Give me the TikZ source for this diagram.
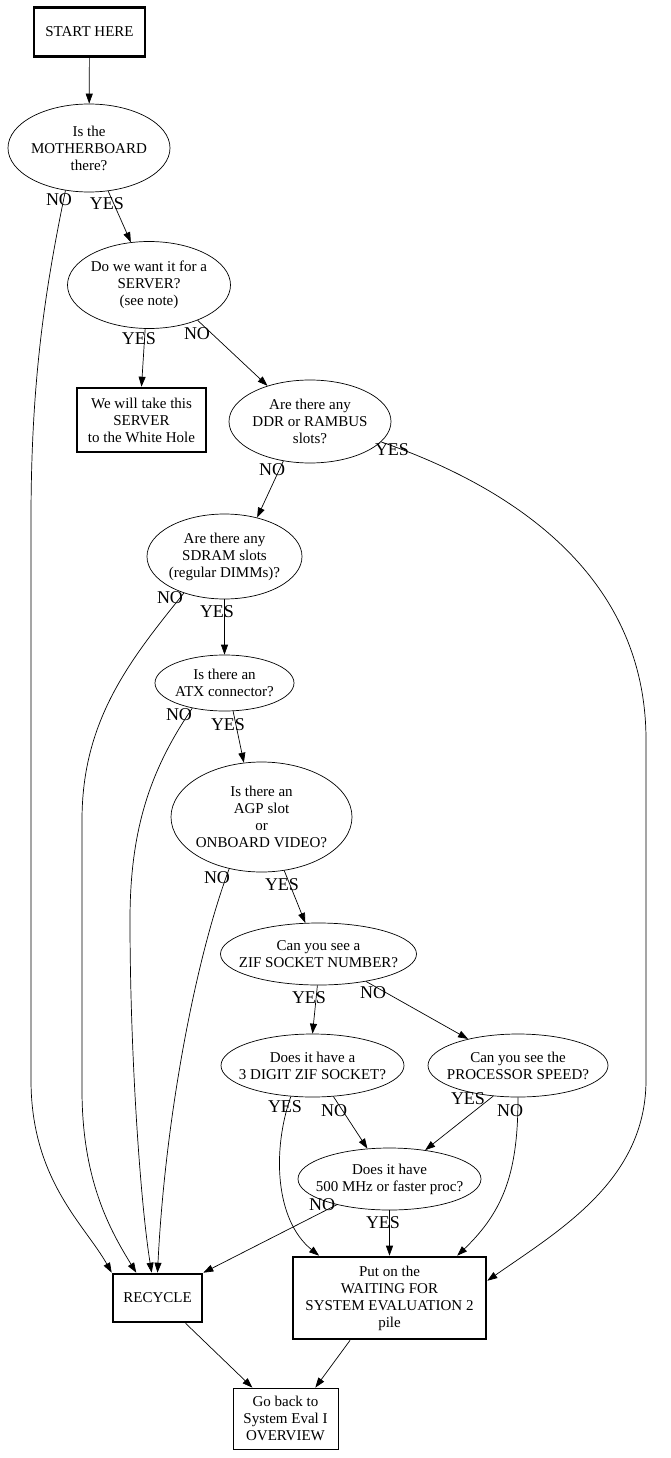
\documentclass[tikz,border=0pt]{standalone}
\usepackage{fontspec}
\setmainfont{Liberation Serif}
\usetikzlibrary{shapes.geometric,arrows.meta}
\tikzset{
  q/.style={draw,ellipse,line width=0.7pt,inner xsep=-12pt,inner ysep=0pt,align=center,font=\fontsize{15}{17}\selectfont},
  thickbox/.style={draw,rectangle,line width=2.6pt,inner sep=2pt,align=center,font=\fontsize{15}{17}\selectfont},
  thinbox/.style={draw,rectangle,line width=0.8pt,inner sep=2pt,align=center,font=\fontsize{15}{17}\selectfont},
  lab/.style={font=\fontsize{18}{20}\selectfont,inner sep=0pt},
  edge/.style={line width=0.7pt,-{Triangle[length=10pt,width=7pt]}}
}
\begin{document}
\begin{tikzpicture}[x=1pt,y=-1pt]
\useasboundingbox (0,0) rectangle (671,1458);
% nodes
\node[thickbox,minimum width=111pt,minimum height=49pt] (start) at (89.5,32) {START HERE};
\node[q,minimum width=162pt,minimum height=88pt] (mb) at (89,148) {Is the\\MOTHERBOARD\\there?};
\node[q,minimum width=163pt,minimum height=87pt] (srv) at (149,285) {Do we want it for a\\SERVER?\\(see note)};
\node[thickbox,minimum width=129pt,minimum height=64pt] (wh) at (141.5,420) {We will take this\\SERVER\\to the White Hole};
\node[q,minimum width=162pt,minimum height=83pt] (ddr) at (310,421.5) {Are there any\\DDR or RAMBUS\\slots?};
\node[q,minimum width=155pt,minimum height=85pt] (sdram) at (224.5,556.5) {Are there any\\SDRAM slots\\(regular DIMMs)?};
\node[q,minimum width=139pt,minimum height=56pt] (atx) at (224.5,683) {Is there an\\ATX connector?};
\node[q,minimum width=181pt,minimum height=110pt] (agp) at (261.5,817) {Is there an\\AGP slot\\or\\ONBOARD VIDEO?};
\node[q,minimum width=196pt,minimum height=62pt] (zif) at (318.5,954) {Can you see a\\ZIF SOCKET NUMBER?};
\node[q,minimum width=183pt,minimum height=63pt] (d3) at (312.5,1065.5) {Does it have a\\3 DIGIT ZIF SOCKET?};
\node[q,minimum width=180pt,minimum height=63pt] (proc) at (518,1065.5) {Can you see the\\PROCESSOR SPEED?};
\node[q,minimum width=183pt,minimum height=62pt] (mhz) at (389.5,1179) {Does it have\\500 MHz or faster proc?};
\node[thickbox,minimum width=89pt,minimum height=48pt] (rec) at (157.5,1298) {RECYCLE};
\node[thickbox,minimum width=193pt,minimum height=82pt] (wait) at (389.5,1298) {Put on the\\WAITING FOR\\SYSTEM EVALUATION 2\\pile};
\node[thinbox,minimum width=105pt,minimum height=61pt] (back) at (285.5,1418.5) {Go back to\\System Eval I\\OVERVIEW};
% edges
\draw[edge] (start) -- (mb);
\draw[edge] (mb.241) .. controls (45,290) and (31,380) .. (31,520) -- (31,1080) .. controls (31,1180) and (85,1225) .. (rec.north west);
\draw[edge] (mb.294) -- (srv.113);
\draw[edge] (srv.265) -- (wh.north);
\draw[edge] (srv.324) -- (ddr.140);
\draw[edge] (ddr.344) .. controls (520,490) and (646,580) .. (646,740) -- (646,1080) .. controls (646,1180) and (560,1230) .. (wait.10.6);
\draw[edge] (ddr.236) -- (sdram.50.4);
\draw[edge] (sdram.222) .. controls (130,660) and (82,720) .. (82,820) -- (82,1090) .. controls (82,1180) and (110,1230) .. (rec.130.5);
\draw[edge] (sdram.270) -- (atx.90);
\draw[edge] (atx.218) .. controls (150,770) and (130,830) .. (130,920) .. controls (130,1050) and (140,1200) .. (rec.103);
\draw[edge] (atx.287) -- (agp.108);
\draw[edge] (agp.238) .. controls (195,960) and (165,1120) .. (rec.north);
\draw[edge] (agp.293) -- (zif.113.6);
\draw[edge] (zif.268) -- (d3.90);
\draw[edge] (zif.330) -- (proc.152);
\draw[edge] (d3.235) .. controls (272,1150) and (275,1220) .. (wait.149.5);
\draw[edge] (d3.304) -- (mhz.126);
\draw[edge] (proc.231) -- (mhz.39);
\draw[edge] (proc.270) .. controls (518,1170) and (505,1210) .. (wait.32);
\draw[edge] (mhz.206) -- (rec.north east);
\draw[edge] (mhz.270) -- (wait.90);
\draw[edge] (rec.318) -- (back.137.7);
\draw[edge] (wait.227.6) -- (back.46);
% labels
\node[lab] (l1) at (59,200) {NO};
\node[lab] (l2) at (107,204) {YES};
\node[lab] (l3) at (139,339) {YES};
\node[lab] (l4) at (197,334) {NO};
\node[lab] (l5) at (392,450) {YES};
\node[lab] (l6) at (272,470) {NO};
\node[lab] (l7) at (170,598) {NO};
\node[lab] (l8) at (217,612) {YES};
\node[lab] (l9) at (179,715) {NO};
\node[lab] (l10) at (228,725) {YES};
\node[lab] (l11) at (217,878) {NO};
\node[lab] (l12) at (282,885) {YES};
\node[lab] (l13) at (309,998) {YES};
\node[lab] (l14) at (373,993) {NO};
\node[lab] (l15) at (285,1107) {YES};
\node[lab] (l16) at (334,1111) {NO};
\node[lab] (l17) at (468,1099) {YES};
\node[lab] (l18) at (510,1111) {NO};
\node[lab] (l19) at (322,1205) {NO};
\node[lab] (l20) at (383,1223) {YES};
\end{tikzpicture}
\end{document}
